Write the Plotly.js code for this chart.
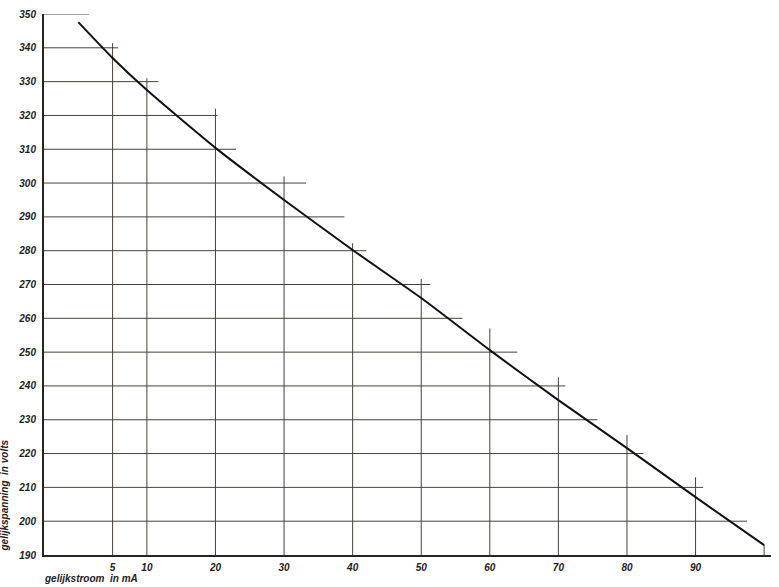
<!DOCTYPE html>
<html>
<head>
<meta charset="utf-8">
<script src="https://cdn.plot.ly/plotly-3.0.1.min.js"></script>
<style>html,body{margin:0;padding:0;background:#fff;}#chart{width:779px;height:587px;}</style>
</head>
<body>
<div id="chart"></div>
<script>
// Curve: direct current (mA) vs DC voltage (V)
const currentMA = [0, 5, 10, 20, 30, 40, 50, 60, 70, 80, 90, 100];
const voltage = [347.6, 337.0, 327.5, 310.4, 295.0, 280.2, 266.0, 250.6, 235.8, 221.6, 207.1, 192.9];

// Hand-drawn grid: vertical lines (x value, top voltage)
const vGridX = [5, 10, 20, 30, 40, 50, 60, 70, 80, 90, 100];
const vGridTop = [341.4, 331, 322, 302, 282.2, 271.6, 257, 242.6, 225.5, 213, 193];

// Horizontal lines (voltage, right end in mA)
const hGridY = [350, 340, 330, 320, 310, 300, 290, 280, 270, 260, 250, 240, 230, 220, 210, 200];
const hGridEnd = [1.6, 5.8, 11.7, 20.3, 23, 33.2, 38.8, 42, 51.3, 56, 64, 71, 75.7, 82.4, 91.1, 97.5];

// Tick labels
const xTickVals = [5, 10, 20, 30, 40, 50, 60, 70, 80, 90];
const xTickText = ['5', '10', '20', '30', '40', '50', '60', '70', '80', '90'];
const yTickVals = [190, 200, 210, 220, 230, 240, 250, 260, 270, 280, 290, 300, 310, 320, 330, 340, 350];
const yTickText = yTickVals.map(String);

const xMin = -5, yMin = 190;

const vx = [], vy = [];
vGridX.forEach((x, i) => { vx.push(x, x, null); vy.push(yMin, vGridTop[i], null); });
const hx = [], hy = [];
hGridY.forEach((y, i) => { hx.push(xMin, hGridEnd[i], null); hy.push(y, y, null); });

const gridColor = '#4a4038';
const labelFont = {family: 'Liberation Sans, Arial, sans-serif', size: 10, color: '#222', style: 'italic', weight: 'bold'};

const traces = [
  {x: vx, y: vy, mode: 'lines', line: {color: gridColor, width: 1}, hoverinfo: 'skip', showlegend: false, cliponaxis: false},
  {x: hx, y: hy, mode: 'lines', line: {color: gridColor, width: 1}, hoverinfo: 'skip', showlegend: false, cliponaxis: false},
  {x: currentMA, y: voltage, mode: 'lines', line: {color: '#111', width: 2, shape: 'spline', smoothing: 0.6}, showlegend: false, cliponaxis: false}
];

const layout = {
  width: 779, height: 587,
  margin: {l: 44, r: 8, t: 14, b: 32},
  paper_bgcolor: '#fff', plot_bgcolor: '#fff',
  showlegend: false,
  xaxis: {
    range: [-5, 101], showgrid: false, zeroline: false,
    showline: true, linecolor: '#2a2420', linewidth: 2,
    tickmode: 'array', tickvals: xTickVals, ticktext: xTickText,
    ticks: '', tickfont: labelFont, ticklabelstandoff: 2
  },
  yaxis: {
    range: [190, 350], showgrid: false, zeroline: false,
    showline: true, linecolor: '#2a2420', linewidth: 2,
    tickmode: 'array', tickvals: yTickVals, ticktext: yTickText,
    ticks: '', tickfont: labelFont, ticklabelstandoff: 4
  },
  annotations: [
    {text: 'gelijkspanning  in volts', xref: 'paper', yref: 'paper', x: -0.055, y: 0.11, textangle: -90,
     showarrow: false, font: labelFont, xanchor: 'center', yanchor: 'middle'},
    {text: 'gelijkstroom  in mA', xref: 'paper', yref: 'paper', x: -0.003, y: -0.0575,
     showarrow: false, font: labelFont, xanchor: 'left', yanchor: 'bottom'}
  ]
};

Plotly.newPlot('chart', traces, layout, {staticPlot: true, displayModeBar: false});
</script>
</body>
</html>
